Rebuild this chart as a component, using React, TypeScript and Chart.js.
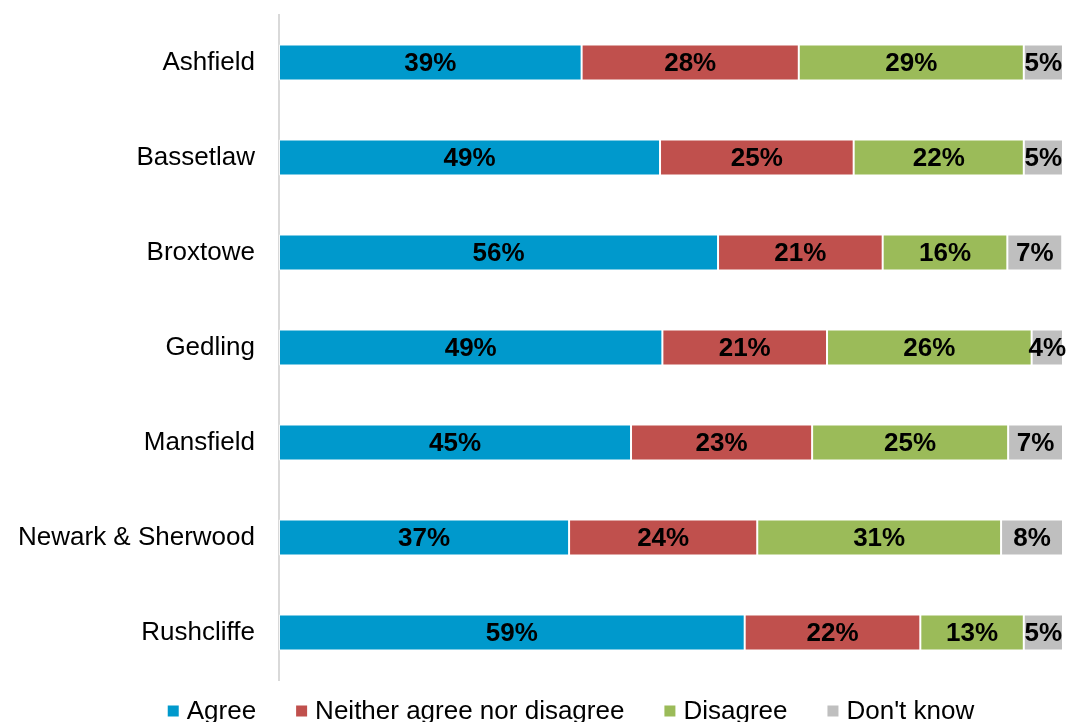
import React, { useEffect, useRef } from "react";
import { Chart, registerables } from "chart.js";

Chart.register(...registerables);

const categories = [
  "Ashfield",
  "Bassetlaw",
  "Broxtowe",
  "Gedling",
  "Mansfield",
  "Newark & Sherwood",
  "Rushcliffe",
];

const agree = [38.6, 48.6, 56.0, 48.9, 44.9, 37.0, 59.4];
const neither = [27.7, 24.7, 21.0, 21.0, 23.1, 24.0, 22.4];
const disagree = [28.7, 21.7, 15.9, 26.1, 25.0, 31.1, 13.2];
const dontKnow = [5.0, 5.0, 7.0, 4.0, 7.0, 7.9, 5.0];

const seriesNames = ["Agree", "Neither agree nor disagree", "Disagree", "Don't know"];
const seriesColors = ["#0099CC", "#C0504D", "#9BBB59", "#BFBFBF"];

const FONT = '"Liberation Sans", Arial, Helvetica, sans-serif';

const segmentLabels = {
  id: "segmentLabels",
  afterDatasetsDraw(chart: any) {
    const ctx = chart.ctx;
    ctx.save();
    ctx.font = `bold 26px ${FONT}`;
    ctx.fillStyle = "#000";
    ctx.textAlign = "center";
    ctx.textBaseline = "middle";
    chart.data.datasets.forEach((ds: any, i: number) => {
      const meta = chart.getDatasetMeta(i);
      meta.data.forEach((el: any, j: number) => {
        const p = el.getProps(["x", "base", "y"], true);
        ctx.fillText(Math.round(ds.data[j]) + "%", (p.x + p.base) / 2, p.y + 1);
      });
    });
    ctx.restore();
  },
};

const customLegend = {
  id: "customLegend",
  afterDraw(chart: any) {
    const ctx = chart.ctx;
    const box = 11;
    const gapText = 8;
    const gapItem = 40;
    const cy = 711;
    const centerX = 571;
    ctx.save();
    ctx.font = `26px ${FONT}`;
    ctx.textBaseline = "middle";
    ctx.textAlign = "left";
    const items = chart.data.datasets.map((ds: any) => ({
      label: ds.label,
      color: ds.backgroundColor,
      w: ctx.measureText(ds.label).width,
    }));
    const total =
      items.reduce((s: number, it: any) => s + box + gapText + it.w, 0) +
      gapItem * (items.length - 1);
    let x = centerX - total / 2;
    items.forEach((it: any) => {
      ctx.fillStyle = it.color;
      ctx.fillRect(x, cy - box / 2, box, box);
      x += box + gapText;
      ctx.fillStyle = "#000";
      ctx.fillText(it.label, x, cy + 1);
      x += it.w + gapItem;
    });
    ctx.restore();
  },
};

export default function App() {
  const ref = useRef<HTMLCanvasElement>(null);
  useEffect(() => {
    document.body.style.margin = "0";
    const values = [agree, neither, disagree, dontKnow];
    const chart = new Chart(ref.current as HTMLCanvasElement, {
      type: "bar",
      data: {
        labels: categories,
        datasets: values.map((v, i) => ({
          label: seriesNames[i],
          data: v,
          backgroundColor: seriesColors[i],
          borderColor: "rgba(255,255,255,0.75)",
          borderWidth: 1,
          borderSkipped: false,
          barPercentage: 0.38,
          categoryPercentage: 1,
        })),
      },
      options: {
        indexAxis: "y",
        responsive: true,
        maintainAspectRatio: false,
        animation: false,
        layout: { padding: { top: 15, right: 3, left: 0, bottom: 42 } },
        plugins: {
          legend: { display: false },
          tooltip: { enabled: false },
        },
        scales: {
          x: {
            stacked: true,
            display: false,
            min: 0,
            max: 100,
          },
          y: {
            stacked: true,
            afterFit: (scale: any) => {
              scale.width = 279;
              scale.paddingTop = 0;
              scale.paddingBottom = 0;
            },
            grid: { display: false, drawTicks: false },
            border: { display: true, color: "#D9D9D9", width: 2 },
            ticks: {
              padding: 24,
              color: "#000",
              font: { family: FONT, size: 26 },
            },
          },
        },
      },
      plugins: [segmentLabels, customLegend],
    });
    return () => chart.destroy();
  }, []);
  return (
    <div style={{ position: "relative", width: 1066, height: 722 }}>
      <canvas ref={ref} />
    </div>
  );
}
